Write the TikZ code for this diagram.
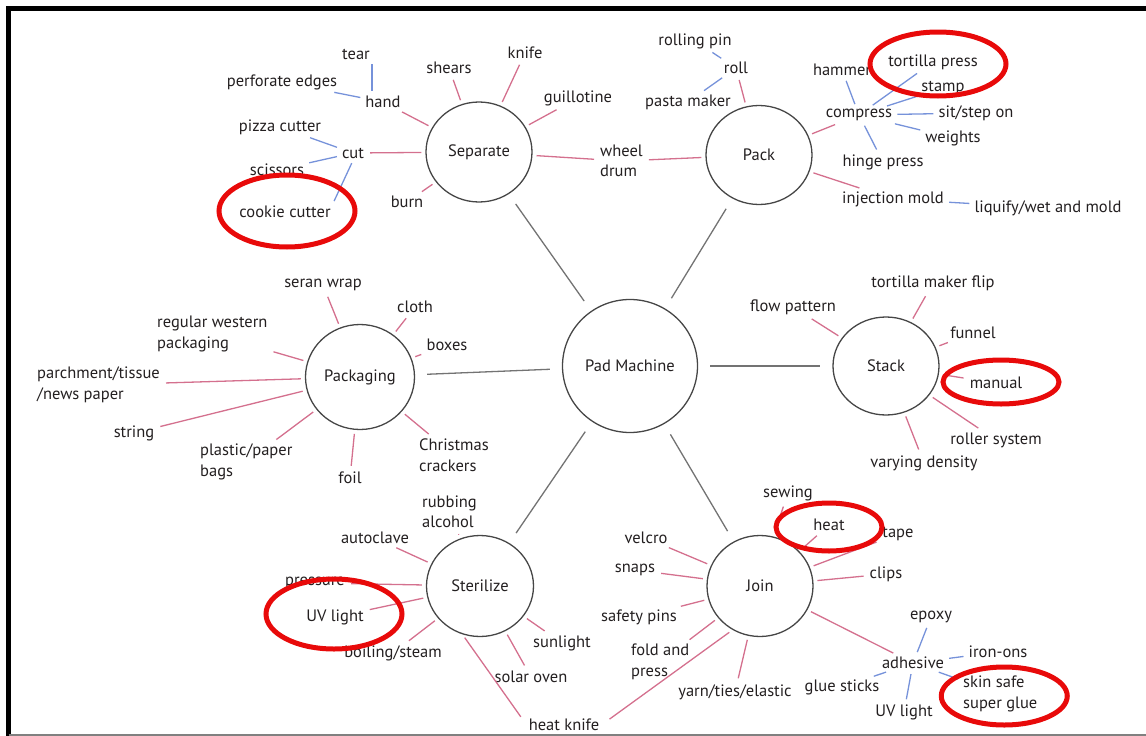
\documentclass[tikz,border=0pt]{standalone}
\usepackage{fontspec}
\setmainfont{PT Sans}
\usetikzlibrary{shapes.geometric}
\definecolor{inkblack}{RGB}{35,31,32}
\definecolor{hubgray}{RGB}{70,70,70}
\definecolor{spokegray}{RGB}{115,115,115}
\definecolor{branchpink}{RGB}{212,112,142}
\definecolor{twigblue}{RGB}{118,146,218}
\definecolor{ringred}{RGB}{232,10,10}
\tikzstyle{hub} = [ellipse, draw=hubgray, line width=1.3pt, inner sep=0pt, minimum width=106pt, minimum height=100pt, text=inkblack]
\tikzstyle{leaf} = [inner sep=2pt, text=inkblack]
\tikzstyle{spoke} = [line width=1.3pt, draw=spokegray, shorten <=12pt, shorten >=12pt]
\tikzstyle{branch} = [line width=1.3pt, draw=branchpink, shorten <=4pt, shorten >=4pt]
\tikzstyle{twig} = [line width=1.3pt, draw=twigblue, shorten <=3pt, shorten >=3pt]
\tikzstyle{highlight} = [draw=ringred, line width=5pt]
\tikzset{
	twoline/.style = {leaf, align=left, anchor=west}
}

\begin{document}
\begin{tikzpicture}[x=1pt, y=-1pt, font=\fontsize{16.5}{20.5}\selectfont]
\useasboundingbox (0,0) rectangle (1146,736);
% frame
\draw [line width=5pt] (8.5,736) -- (8.5,8.5) -- (1146,8.5);
\draw [gray, line width=1.5pt] (8.5,735) -- (1146,735);

% Placement of hub nodes
\node (padMachine) [hub, minimum width=135pt, minimum height=133pt] at (630,366) {Pad Machine};
\node (separate) [hub] at (479,152) {Separate};
\node (pack) [hub, minimum height=99pt] at (759,155) {Pack};
\node (packaging) [hub, minimum width=109pt, minimum height=105pt] at (360,377) {Packaging};
\node (stack) [hub, minimum height=98pt] at (886,366) {Stack};
\node (sterilize) [hub, minimum width=107pt, minimum height=101pt] at (480,586) {Sterilize};
\node (join) [hub, minimum height=101pt] at (760,586) {Join};

% Separate leaves
\node (tear) [leaf] at (356,54) {tear};
\node (perforateEdges) [leaf] at (282,82) {perforate edges};
\node (hand) [leaf] at (383,102) {hand};
\node (shears) [leaf] at (449,68) {shears};
\node (knife) [leaf] at (525,53) {knife};
\node (guillotine) [leaf] at (578,98) {guillotine};
\node (pizzaCutter) [leaf] at (280,127) {pizza cutter};
\node (cut) [leaf] at (353,153) {cut};
\node (scissors) [leaf] at (277,170) {scissors};
\node (cookieCutter) [leaf] at (285,212) {cookie cutter};
\node (burn) [leaf] at (407,202) {burn};
\node (wheelDrum) [twoline] at (598,161) {wheel\\drum};

% Pack leaves
\node (rollingPin) [leaf] at (695,41) {rolling pin};
\node (roll) [leaf] at (736,68) {roll};
\node (pastaMaker) [leaf] at (688,102) {pasta maker};
\node (compress) [leaf] at (859,115) {compress};
\node (hammer) [leaf] at (842,70) {hammer};
\node (tortillaPress) [leaf] at (933,62) {tortilla press};
\node (stamp) [leaf] at (943,88) {stamp};
\node (sitStep) [leaf] at (976,113) {sit/step on};
\node (weights) [leaf] at (953,138) {weights};
\node (hingePress) [leaf] at (883,162) {hinge press};
\node (injectionMold) [leaf] at (893,199) {injection mold};
\node (liquify) [leaf] at (1048,208) {liquify/wet and mold};

% Packaging leaves
\node (seranWrap) [leaf] at (323,285) {seran wrap};
\node (cloth) [leaf] at (415,307) {cloth};
\node (boxes) [leaf] at (447,345) {boxes};
\node (regularWestern) [twoline] at (155,334) {regular western\\packaging};
\node (parchment) [twoline] at (35,385) {parchment/tissue\\/news paper};
\node (string) [leaf] at (134,433) {string};
\node (plasticBags) [twoline] at (198,462) {plastic/paper\\bags};
\node (foil) [leaf] at (350,478) {foil};
\node (christmasCrackers) [twoline] at (417,455) {Christmas\\crackers};

% Stack leaves
\node (tortillaMakerFlip) [leaf] at (933,283) {tortilla maker flip};
\node (flowPattern) [leaf] at (793,307) {flow pattern};
\node (funnel) [leaf] at (973,333) {funnel};
\node (manual) [leaf] at (996,383) {manual};
\node (rollerSystem) [leaf] at (996,440) {roller system};
\node (varyingDensity) [leaf] at (924,463) {varying density};

% Sterilize leaves
\node (rubbingAlcohol) [twoline] at (420,512) {rubbing\\alcohol};
\node (autoclave) [leaf] at (375,538) {autoclave};
\node (pressure) [leaf] at (315,583) {pressure};
\node (uvLight) [leaf] at (335,617) {UV light};
\node (boilingSteam) [leaf] at (393,653) {boiling/steam};
\node (sunlight) [leaf] at (562,643) {sunlight};
\node (solarOven) [leaf] at (531,677) {solar oven};
\node (heatKnife) [leaf] at (564,725) {heat knife};

% Join leaves
\node (sewing) [leaf] at (788,493) {sewing};
\node (heat) [leaf] at (829,525) {heat};
\node (tape) [leaf] at (898,534) {tape};
\node (velcro) [leaf] at (646,538) {velcro};
\node (snaps) [leaf] at (635,570) {snaps};
\node (clips) [leaf] at (886,574) {clips};
\node (safetyPins) [leaf] at (639,617) {safety pins};
\node (foldPress) [twoline] at (629,662) {fold and\\press};
\node (yarnTies) [leaf] at (735,692) {yarn/ties/elastic};
\node (adhesive) [leaf] at (913,663) {adhesive};
\node (epoxy) [leaf] at (931,617) {epoxy};
\node (ironOns) [leaf] at (998,652) {iron-ons};
\node (glueSticks) [leaf] at (842,687) {glue sticks};
\node (uvLightGlue) [leaf] at (904,712) {UV light};
\node (skinSafe) [twoline] at (961,694) {skin safe\\super glue};

% Drawing of spokes
\draw [spoke] (padMachine) -- (separate);
\draw [spoke] (padMachine) -- (pack);
\draw [spoke] (padMachine) -- (packaging);
\draw [spoke] (padMachine) -- (stack);
\draw [spoke] (padMachine) -- (sterilize);
\draw [spoke] (padMachine) -- (join);

% Separate lines
\draw [branch] (separate) -- (hand);
\draw [branch] (separate) -- (shears);
\draw [branch] (separate) -- (knife);
\draw [branch] (separate) -- (guillotine);
\draw [branch] (separate) -- (cut);
\draw [branch] (separate) -- (burn);
\draw [branch] (separate) -- (wheelDrum);
\draw [twig] (tear.south east) -- (tear.south east |- hand.north);
\draw [twig] (hand) -- (perforateEdges);
\draw [twig] (cut) -- (pizzaCutter);
\draw [twig] (cut) -- (scissors);
\draw [twig] (cut.south) -- (cookieCutter.north east);

% Pack lines
\draw [branch] (pack) -- (roll);
\draw [branch] (pack) -- (compress);
\draw [branch] (pack) -- (wheelDrum);
\draw [branch] (pack) -- (injectionMold);
\draw [twig] (roll) -- (rollingPin);
\draw [twig] (roll) -- (pastaMaker);
\draw [twig] (compress) -- (hammer);
\draw [twig] (compress) -- (tortillaPress);
\draw [twig] (compress) -- (stamp);
\draw [twig] (compress) -- (sitStep);
\draw [twig] (compress) -- (weights);
\draw [twig] (compress) -- (hingePress);
\draw [twig] (injectionMold) -- (liquify);

% Packaging lines
\draw [branch] (packaging) -- (seranWrap);
\draw [branch] (packaging) -- (cloth);
\draw [branch] (packaging) -- (boxes);
\draw [branch] (packaging) -- (regularWestern);
\draw [branch] (packaging) -- (parchment);
\draw [branch] (packaging) -- (string);
\draw [branch] (packaging) -- (plasticBags);
\draw [branch] (packaging) -- (foil);
\draw [branch] (packaging) -- (christmasCrackers);

% Stack lines
\draw [branch] (stack) -- (tortillaMakerFlip);
\draw [branch] (stack) -- (flowPattern);
\draw [branch] (stack) -- (funnel);
\draw [branch] (stack) -- (manual);
\draw [branch] (stack) -- (rollerSystem);
\draw [branch] (stack) -- (varyingDensity);

% Sterilize lines
\draw [branch] (sterilize) -- (rubbingAlcohol);
\draw [branch] (sterilize) -- (autoclave);
\draw [branch] (sterilize) -- (pressure);
\draw [branch] (sterilize) -- (uvLight);
\draw [branch] (sterilize) -- (boilingSteam);
\draw [branch] (sterilize) -- (sunlight);
\draw [branch] (sterilize) -- (solarOven);
\draw [branch, shorten >=10pt] (sterilize.-110) -- (heatKnife.west);

% Join lines
\draw [branch, shorten <=14pt] (join.75) -- (sewing);
\draw [branch] (join) -- (heat);
\draw [branch] (join) -- (tape);
\draw [branch] (join) -- (velcro);
\draw [branch] (join) -- (snaps);
\draw [branch] (join) -- (clips);
\draw [branch] (join) -- (safetyPins);
\draw [branch] (join) -- (foldPress);
\draw [branch] (join) -- (yarnTies);
\draw [branch] (join) -- (adhesive);
\draw [branch, shorten >=10pt] (join.-122) -- (heatKnife.east);
\draw [twig] (adhesive) -- (epoxy);
\draw [twig] (adhesive) -- (ironOns);
\draw [twig] (adhesive) -- (glueSticks);
\draw [twig] (adhesive) -- (uvLightGlue);
\draw [twig] (adhesive) -- (skinSafe);

%% Red highlight rings
\draw [highlight] (cookieCutter.center) ++(2,-1) ellipse [x radius=68pt, y radius=36pt];
\draw [highlight] (tortillaPress.center) ++(5,2) ellipse [x radius=68pt, y radius=32pt];
\draw [highlight] (manual.center) ++(5,-1) ellipse [x radius=58pt, y radius=22pt];
\draw [highlight] (uvLight.center) ++(-1,-3) ellipse [x radius=68pt, y radius=35pt];
\draw [highlight] (heat.center) ++(0,2) ellipse [x radius=53pt, y radius=24pt];
\draw [highlight] (skinSafe.center) ++(4,2) ellipse [x radius=63pt, y radius=29pt];

\end{tikzpicture}
\end{document}
